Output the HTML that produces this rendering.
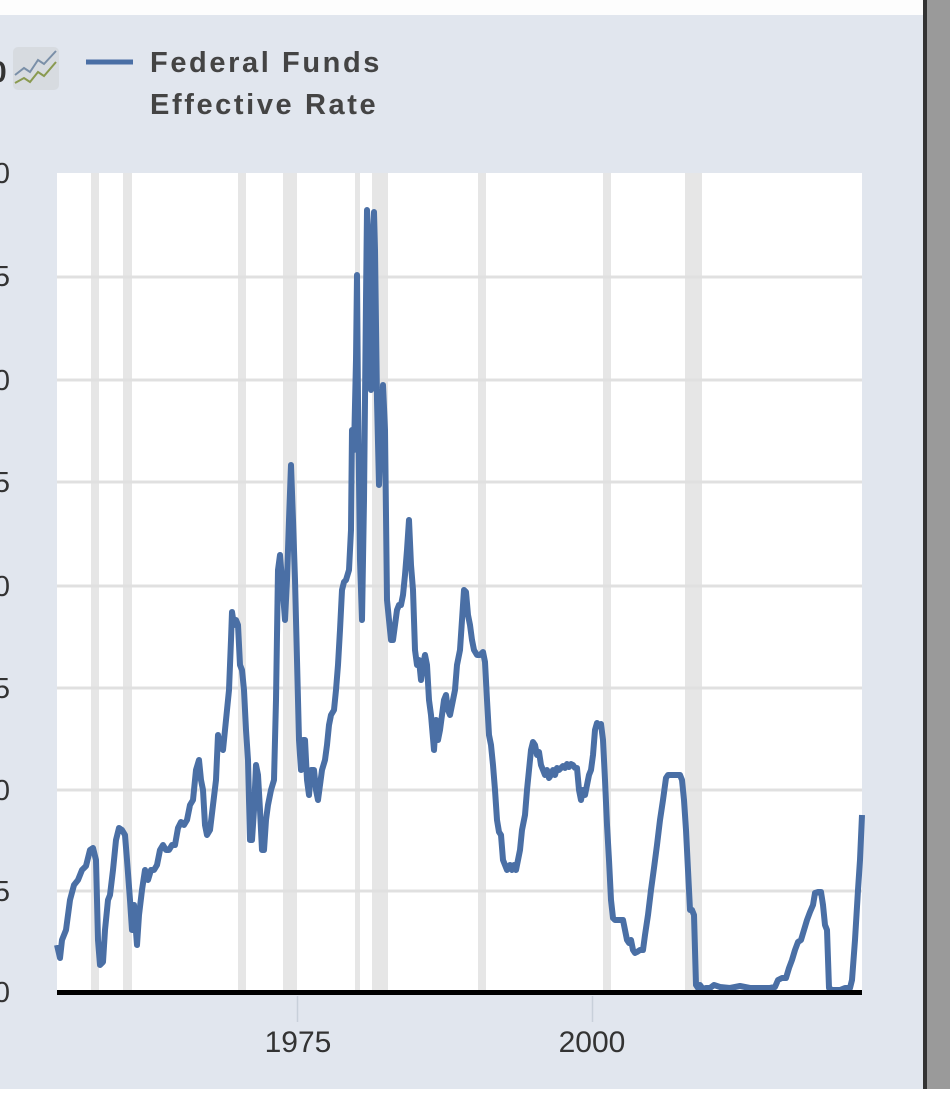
<!DOCTYPE html>
<html><head><style>html,body{margin:0;padding:0;background:#fff}</style></head>
<body>
<svg width="950" height="1089" xmlns="http://www.w3.org/2000/svg" font-family="Liberation Sans, DejaVu Sans, sans-serif">
<rect x="0" y="0" width="950" height="1089" fill="#e1e6ee"/>
<rect x="0" y="0" width="923" height="15" fill="#fdfdfd"/>
<rect x="923" y="0" width="4" height="1089" fill="#333"/>
<rect x="927" y="0" width="23" height="1089" fill="#9a9a9a"/>
<text x="-10" y="82" font-size="30" font-weight="bold" fill="#333">0</text>
<rect x="13" y="47" width="46" height="43" rx="5" fill="#d7dbe0"/>
<polyline points="15,75 24,68 30,72 38,60 44,64 56,51" fill="none" stroke="#7a8fa8" stroke-width="2"/>
<polyline points="15,83 24,78 30,82 38,72 44,76 56,62" fill="none" stroke="#8a9a50" stroke-width="2"/>
<line x1="86" y1="62" x2="133" y2="62" stroke="#4a6fa5" stroke-width="5"/>
<text x="150" y="72" font-size="29" font-weight="bold" fill="#444" letter-spacing="2.6">Federal Funds</text>
<text x="150" y="114" font-size="29" font-weight="bold" fill="#444" letter-spacing="2.6">Effective Rate</text>
<rect x="57" y="173" width="805" height="818" fill="#fff"/>
<g fill="#e6e6e6">
<rect x="91" y="173" width="8" height="818"/>
<rect x="123" y="173" width="9" height="818"/>
<rect x="238" y="173" width="8" height="818"/>
<rect x="283" y="173" width="14" height="818"/>
<rect x="355" y="173" width="5" height="818"/>
<rect x="372" y="173" width="16" height="818"/>
<rect x="478" y="173" width="8" height="818"/>
<rect x="603" y="173" width="8" height="818"/>
<rect x="685" y="173" width="17" height="818"/>
</g>
<g stroke="#e0e0e0" stroke-width="3">
<line x1="57" y1="277" x2="862" y2="277"/>
<line x1="57" y1="380" x2="862" y2="380"/>
<line x1="57" y1="482" x2="862" y2="482"/>
<line x1="57" y1="586" x2="862" y2="586"/>
<line x1="57" y1="688" x2="862" y2="688"/>
<line x1="57" y1="790" x2="862" y2="790"/>
<line x1="57" y1="891" x2="862" y2="891"/>
</g>
<g font-size="29" fill="#333" text-anchor="end">
<text x="10" y="183">20</text><text x="10" y="286">15</text><text x="10" y="390">10</text><text x="10" y="492">15</text>
<text x="10" y="596">10</text><text x="10" y="698">15</text><text x="10" y="800">10</text><text x="10" y="901">15</text><text x="10" y="1002">10</text>
</g>
<polyline fill="none" stroke="#4a6fa5" stroke-width="6" stroke-linejoin="round" points="57,945 60,958 62,940 66,930 70,900 74,885 78,880 82,870 86,866 90,850 93,848 96,860 98,940 100,965 103,962 105,930 108,900 110,895 113,870 116,840 119,828 122,830 125,835 127,860 130,900 132,930 134,905 137,945 139,915 142,890 145,870 148,880 151,870 154,870 157,865 160,850 163,845 166,850 169,850 172,845 175,845 178,828 181,822 184,825 187,820 190,805 193,800 196,770 199,760 201,780 203,790 205,825 207,835 210,830 213,805 216,780 218,735 220,745 223,750 226,720 229,690 231,640 232,612 234,625 236,620 238,625 240,665 242,670 244,690 246,730 248,760 250,840 252,840 254,810 256,765 258,775 260,810 262,850 264,850 266,820 268,805 271,790 274,780 276,700 278,570 280,555 282,580 285,620 287,580 289,520 291,465 293,520 295,580 297,660 299,740 301,770 303,740 305,740 307,780 309,795 311,770 314,770 316,790 318,800 320,785 322,770 325,760 327,745 329,725 331,715 334,710 336,690 338,665 340,630 342,590 344,582 346,580 349,570 351,530 352,430 354,450 356,360 357,275 358,400 360,560 362,620 364,500 366,300 367,210 369,250 371,390 372,310 374,212 375,250 377,400 379,485 381,430 383,385 385,430 387,600 389,620 391,640 393,640 395,625 397,610 399,605 401,605 403,595 405,575 407,550 409,520 411,565 413,590 415,650 417,665 419,660 421,680 423,665 425,655 427,665 429,700 431,715 434,750 436,720 438,740 440,730 442,715 444,700 446,695 448,710 450,715 453,700 455,690 457,665 460,650 462,620 464,590 466,592 468,615 470,625 472,640 474,650 477,655 480,655 483,652 485,662 487,700 489,735 491,745 493,765 495,790 497,820 499,832 501,835 503,860 505,865 507,870 510,865 512,870 514,865 516,870 518,860 520,850 522,830 525,815 527,790 529,770 531,750 533,742 535,745 537,755 539,752 541,765 543,770 545,775 547,770 549,778 551,775 553,770 555,775 557,768 559,770 561,768 563,766 565,768 567,764 569,767 571,764 573,765 575,768 577,768 579,790 581,800 583,790 585,795 587,785 589,775 591,770 593,755 595,730 597,723 599,725 601,724 603,740 605,780 607,825 609,860 611,900 613,918 615,920 617,920 620,920 623,920 625,930 627,940 629,943 631,940 633,950 635,953 637,952 640,950 643,950 645,935 648,915 651,890 654,868 657,845 660,820 663,800 666,778 668,775 672,775 676,775 680,775 682,780 684,800 686,830 688,870 690,910 692,910 694,915 696,985 698,988 700,985 703,989 706,988 710,988 714,985 720,987 730,988 740,986 750,988 760,988 770,988 775,987 778,980 782,978 786,978 789,968 792,960 795,950 798,942 801,940 804,930 807,920 810,912 813,905 815,893 818,892 821,892 823,905 825,925 827,930 829,988 832,990 836,990 840,990 845,988 850,988 852,980 855,940 858,890 860,860 862,815"/>
<rect x="57" y="990" width="805" height="5" fill="#000"/>
<line x1="297.5" y1="996" x2="297.5" y2="1022" stroke="#c8d0da" stroke-width="1.5"/>
<line x1="592.5" y1="996" x2="592.5" y2="1022" stroke="#c8d0da" stroke-width="1.5"/>
<g font-size="30" fill="#333" text-anchor="middle">
<text x="298" y="1052">1975</text>
<text x="592" y="1052">2000</text>
</g>
</svg>
</body></html>
